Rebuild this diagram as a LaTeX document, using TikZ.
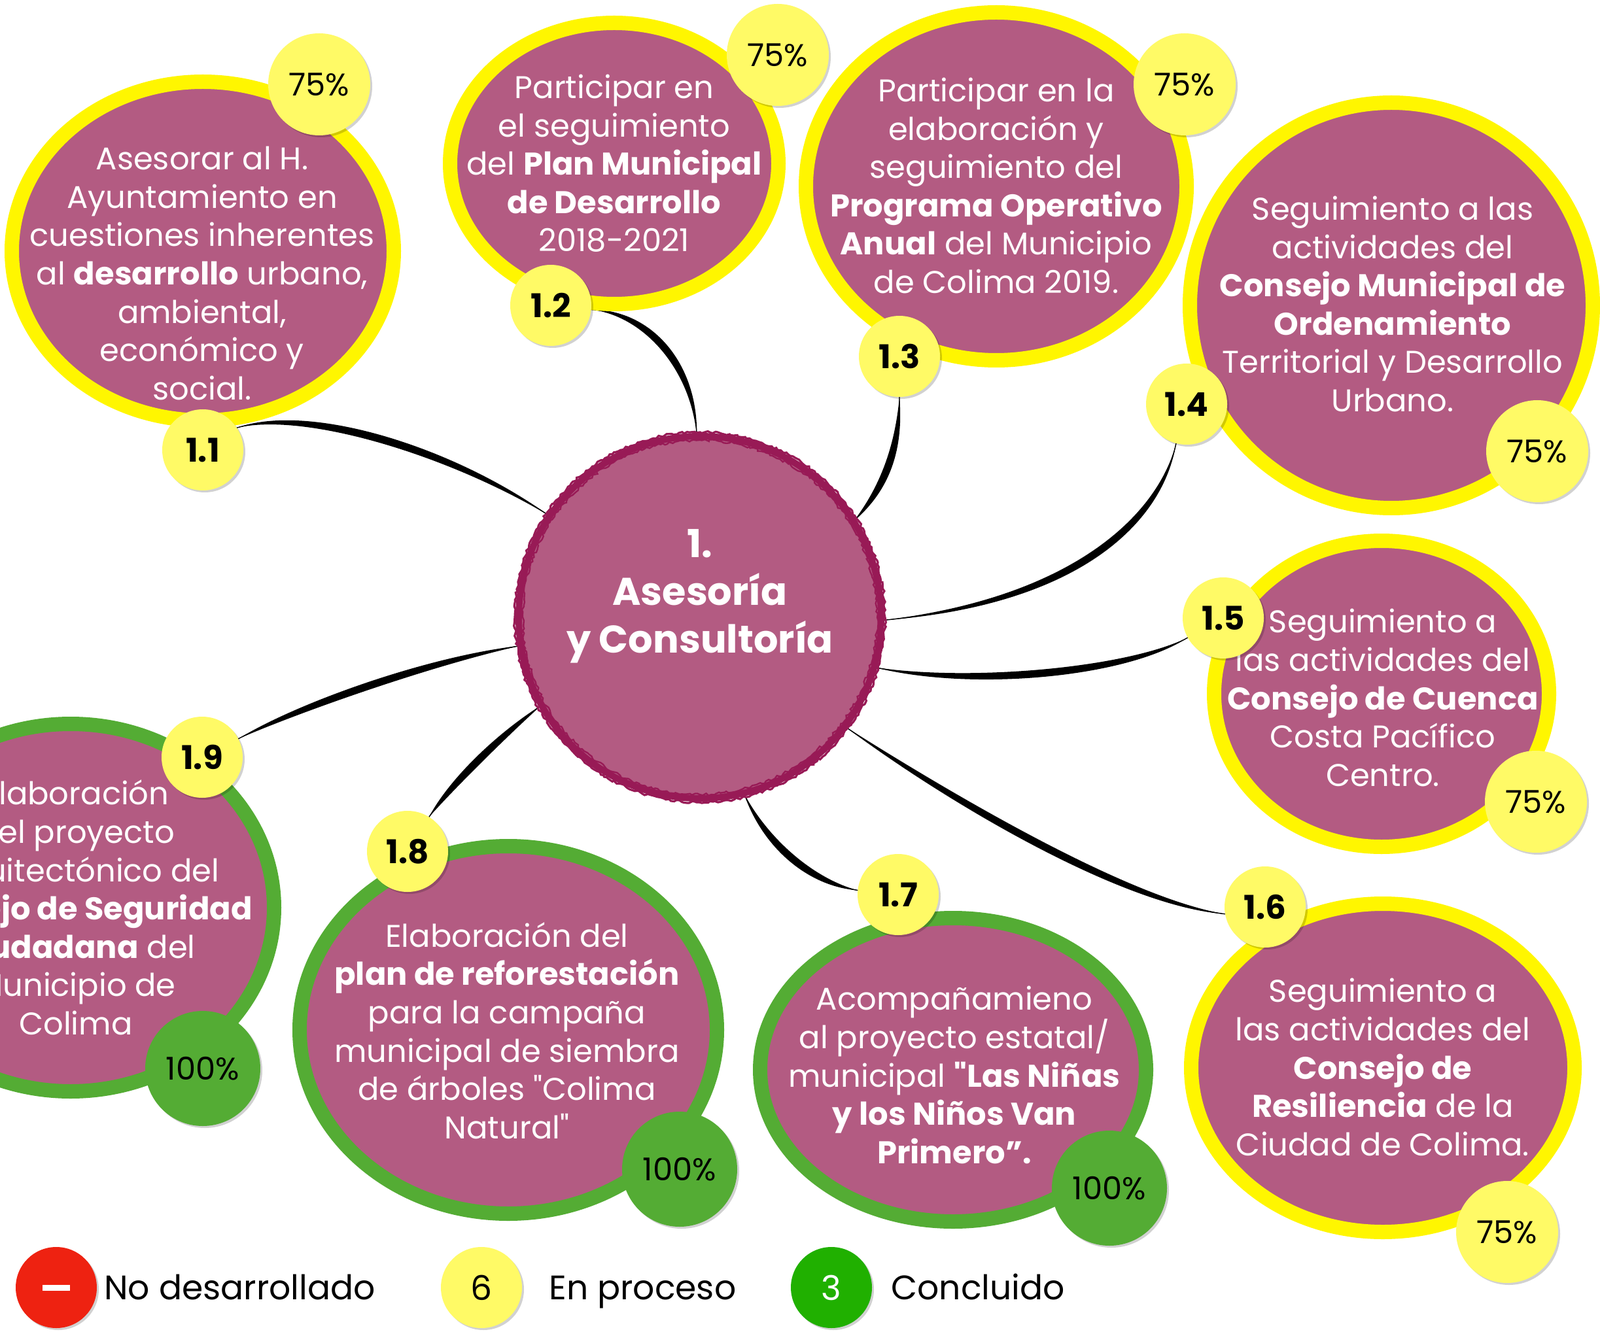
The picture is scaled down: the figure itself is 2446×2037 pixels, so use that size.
\documentclass[tikz,border=0pt]{standalone}
\usepackage{fontspec}
\setmainfont{Poppins}
\usetikzlibrary{shapes.geometric,shadows,decorations.pathmorphing,calc}
\definecolor{bub}{RGB}{179,91,130}
\definecolor{ringY}{RGB}{255,246,0}
\definecolor{labY}{RGB}{255,250,102}
\definecolor{ringG}{RGB}{84,172,52}
\definecolor{cBorder}{RGB}{152,26,86}
\definecolor{legR}{RGB}{238,34,17}
\definecolor{legG}{RGB}{32,176,0}
\pgfdeclarelayer{bg}
\pgfsetlayers{bg,main}
\tikzset{
  shad/.style={drop shadow={shadow xshift=1.5pt,shadow yshift=-1.5pt,opacity=0.18,fill=black}},
  bubY/.style={ellipse, draw=ringY, line width=11pt, fill=bub, inner sep=0pt, outer sep=0pt, shad},
  bubG/.style={ellipse, draw=ringG, line width=11pt, fill=bub, inner sep=0pt, outer sep=0pt, shad},
  btext/.style={text=white, align=center, inner sep=0pt, font=\fontsize{24}{29.3}\selectfont},
  lab/.style={circle, fill=labY, minimum size=62pt, inner sep=0pt, outer sep=0pt, shad, font=\fontsize{25}{25}\selectfont\bfseries},
  pctY/.style={circle, fill=labY, minimum size=78pt, inner sep=0pt, shad, font=\fontsize{24}{24}\selectfont},
  pctG/.style={circle, fill=ringG, minimum size=88pt, inner sep=0pt, shad, font=\fontsize{24}{24}\selectfont},
  legc/.style={circle, minimum size=62pt, inner sep=0pt, shad, font=\fontsize{26}{26}\selectfont},
  legt/.style={anchor=base west, inner sep=0pt, font=\fontsize{26}{26}\selectfont},
  brushfill/.style={fill=black},
  brushline/.style={draw=black, line width=0.7pt, line cap=round}
}
% tapered brush stroke: start, control 1, control 2, end, half-offset
\newcommand{\brushcon}[5]{%
  \fill[brushfill] #1 .. controls ($#2+#5$) and ($#3+#5$) .. #4
     .. controls ($#3-#5$) and ($#2-#5$) .. #1 -- cycle;
  \draw[brushline] #1 .. controls #2 and #3 .. #4;
}
\begin{document}
\begin{tikzpicture}[x=0.5pt,y=-0.5pt]
\useasboundingbox (0,0) rectangle (2446,2037);
\clip (0,0) rectangle (2446,2037);

% central node
\node[circle, fill=bub, draw=cBorder, line width=5pt, minimum size=277pt, inner sep=0pt, outer sep=0pt, shad] (c) at (1070,944) {};
\draw[cBorder, line width=1.6pt, decorate, decoration={random steps,segment length=2pt,amplitude=0.9pt}] (c.center) circle (283);
\draw[cBorder, line width=1.2pt, decorate, decoration={random steps,segment length=2pt,amplitude=1pt}] (c.center) circle (271);
\node[text=white, align=center, inner sep=0pt, font=\fontsize{29.5}{36.5}\selectfont\bfseries] (ct) at (1070,912) {1.\\Asesoría\\y Consultoría};

% bubbles
\node[bubY, minimum width=292pt, minimum height=259pt] (b11) at (310,384) {};
\node[bubY, minimum width=251pt, minimum height=215pt] (b12) at (939,250) {};
\node[bubY, minimum width=291pt, minimum height=266pt] (b13) at (1523,285) {};
\node[bubY, minimum width=308pt, minimum height=310pt] (b14) at (2127,467) {};
\node[bubY, minimum width=256pt, minimum height=234pt] (b15) at (2112,1061) {};
\node[bubY, minimum width=293pt, minimum height=251pt] (b16) at (2114,1633) {};
\node[bubG, minimum width=295pt, minimum height=232pt] (b17) at (1457,1636) {};
\node[bubG, minimum width=319pt, minimum height=281pt] (b18) at (777,1575) {};
\node[bubG, minimum width=311pt, minimum height=281pt] (b19) at (108,1388) {};

% bubble texts
\node[btext] (t11) at (309,418) {Asesorar al H.\\Ayuntamiento en\\cuestiones inherentes\\al \textbf{desarrollo} urbano,\\ambiental,\\económico y\\social.};
\node[btext] (t12) at (939,250) {Participar en\\el seguimiento\\del \textbf{Plan Municipal}\\\textbf{de Desarrollo}\\2018-2021};
\node[btext] (t13) at (1523,284) {Participar en la\\elaboración y\\seguimiento del\\\textbf{Programa Operativo}\\\textbf{Anual} del Municipio\\de Colima 2019.};
\node[btext] (t14) at (2129,465) {Seguimiento a las\\actividades del\\\textbf{Consejo Municipal de}\\\textbf{Ordenamiento}\\Territorial y Desarrollo\\Urbano.};
\node[btext] (t15) at (2114,1067) {Seguimiento a\\las actividades del\\\textbf{Consejo de Cuenca}\\Costa Pacífico\\Centro.};
\node[btext] (t16) at (2114,1632) {Seguimiento a\\las actividades del\\\textbf{Consejo de}\\\textbf{Resiliencia} de la\\Ciudad de Colima.};
\node[btext] (t17) at (1459,1644) {Acompañamieno\\al proyecto estatal/\\municipal \textbf{\textquotedbl Las Niñas}\\\textbf{y los Niños Van}\\\textbf{Primero”.}};
\node[btext] (t18) at (775,1576) {Elaboración del\\\textbf{plan de reforestación}\\para la campaña\\municipal de siembra\\de árboles \textquotedbl Colima\\Natural\textquotedbl};
\node[btext] (t19) at (116,1388) {Elaboración\\del proyecto\\arquitectónico del\\\textbf{Consejo de Seguridad}\\\textbf{Ciudadana} del\\Municipio de\\Colima};

% number labels
\node[lab] (l11) at (310,688) {1.1};
\node[lab] (l12) at (842,467) {1.2};
\node[lab] (l13) at (1375,545) {1.3};
\node[lab] (l14) at (1814,618) {1.4};
\node[lab] (l15) at (1870,945) {1.5};
\node[lab] (l16) at (1934,1387) {1.6};
\node[lab] (l17) at (1373,1368) {1.7};
\node[lab] (l18) at (623,1302) {1.8};
\node[lab] (l19) at (309,1158) {1.9};

% percentages
\node[pctY] (p11) at (488,129) {75\%};
\node[pctY] (p12) at (1189,84) {75\%};
\node[pctY] (p13) at (1811,129) {75\%};
\node[pctY] (p14) at (2350,690) {75\%};
\node[pctY] (p15) at (2348,1226) {75\%};
\node[pctY] (p16) at (2304,1884) {75\%};
\node[pctG] (p17) at (1696,1817) {100\%};
\node[pctG] (p18) at (1039,1788) {100\%};
\node[pctG] (p19) at (310,1634) {100\%};

% legend
\node[legc, fill=legR] (lr) at (86,1969) {\color{white}\rule[-2.2pt]{21pt}{4.5pt}};
\node[legt] (lrt) at (159,1987) {No desarrollado};
\node[legc, fill=labY] (ly) at (736,1969) {6};
\node[legt] (lyt) at (839,1987) {En proceso};
\node[legc, fill=legG, text=white] (lg) at (1271,1969) {3};
\node[legt] (lgt) at (1362,1987) {Concluido};

% background and connectors
\begin{pgfonlayer}{bg}
\fill[white] (0,0) rectangle (2446,2037);
\brushcon{(l11.33)}{(470,622)}{(690,690)}{(c.146)}{(-2.2,7.5)}
\brushcon{(l12.-6)}{(990,478)}{(1062,560)}{(c.91)}{(5.8,-4.9)}
\brushcon{(l13.-90)}{(1375,690)}{(1350,750)}{(c.32)}{(7.2,2.5)}
\brushcon{(l14.-105)}{(1775,790)}{(1650,920)}{(c.-1)}{(4,6.5)}
\brushcon{(l15.209)}{(1720,1030)}{(1480,1050)}{(c.-16)}{(0.7,7.6)}
\brushcon{(c.-37)}{(1450,1220)}{(1720,1380)}{(l16.190)}{(-3.3,6.9)}
\brushcon{(c.-76)}{(1170,1290)}{(1240,1350)}{(l17.174)}{(-4.8,6)}
\brushcon{(l18.58)}{(690,1200)}{(760,1130)}{(c.209)}{(5.4,5.4)}
\brushcon{(l19.27)}{(460,1080)}{(660,1010)}{(c.189)}{(2.5,7.2)}
\end{pgfonlayer}
\end{tikzpicture}
\end{document}
